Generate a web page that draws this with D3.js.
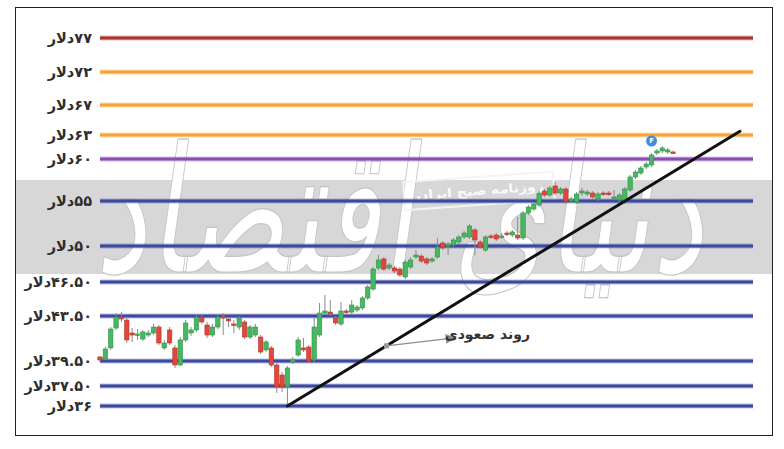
<html>
<head>
<meta charset="utf-8">
<title>Oil trend</title>
<script src="https://cdn.jsdelivr.net/npm/d3@7"></script>
<style>
body { margin:0; background:#fff; }
svg text { font-family: "DejaVu Sans", sans-serif; }
</style>
</head>
<body>
<div id="chart"></div>
<script>
// price levels (dollars) and their labels
var levels = [77, 72, 67, 63, 60, 55, 50, 46.5, 43.5, 39.5, 37.5, 36];
var levelLabels = ['۷۷دلار','۷۲دلار','۶۷دلار','۶۳دلار','۶۰دلار','۵۵دلار','۵۰دلار',
  '۴۶.۵۰دلار','۴۳.۵۰دلار','۳۹.۵۰دلار','۳۷.۵۰دلار','۳۶دلار'];

// daily candles
var open = [39.86,39.68,40.66,42.43,43.41,43.14,41.99,41.81,41.46,41.81,41.99,42.52,40.66,42.26,40.66,39.18,41.37,41.99,42.26,43.41,
  42.70,41.81,42.52,43.50,43.23,42.79,42.52,42.97,41.63,41.81,41.63,40.48,40.66,39.18,38.38,37.43,39.42,40.03,40.66,40.74,
  39.59,41.81,43.76,43.85,43.32,42.79,43.94,43.85,44.03,44.21,45.09,45.88,47.86,48.74,47.86,47.86,47.76,46.99,47.96,48.93,
  49.02,48.74,48.54,48.93,50.33,50.00,50.11,50.44,51.00,51.00,51.78,50.44,49.61,51.11,51.22,51.00,51.44,51.22,51.22,50.89,
  53.67,54.11,54.56,56.19,55.71,56.79,55.95,56.43,55.00,54.89,55.95,55.83,55.95,55.24,55.95,55.95,55.36,55.12,54.89,56.31,
  57.86,58.33,59.05,59.29,60.75,61.00,60.88,60.88];
var high = [39.94,40.74,42.52,43.76,43.85,43.32,42.43,42.34,42.26,42.26,42.79,42.70,41.37,42.52,40.92,41.63,43.14,42.52,43.59,43.59,
  42.97,42.79,43.59,43.76,43.41,43.14,43.50,43.14,42.70,42.79,41.81,41.37,40.83,39.34,38.62,39.10,39.86,41.63,41.54,40.92,
  43.41,44.65,45.35,44.91,43.50,44.74,44.12,44.91,44.47,45.27,46.24,47.96,49.12,48.93,48.35,48.05,47.96,48.64,48.93,49.61,
  49.22,48.93,48.93,50.89,50.56,50.44,50.89,51.22,51.67,52.44,52.00,50.67,51.22,51.33,51.44,51.44,51.67,51.78,53.22,53.89,
  54.56,54.89,56.19,56.43,56.79,57.26,56.67,56.67,55.48,56.07,56.55,56.31,56.19,56.07,56.19,56.19,56.31,55.95,56.67,58.10,
  58.69,59.17,59.64,60.75,61.25,61.63,61.38,61.00];
var low = [39.42,39.59,40.48,42.26,42.97,41.10,41.19,41.37,41.28,41.63,41.81,40.92,40.48,40.92,38.94,39.10,41.19,41.72,42.08,42.79,
  41.54,41.63,42.34,41.81,42.52,41.99,42.26,41.46,41.46,41.63,40.12,40.30,39.02,36.98,37.05,36.00,39.26,39.86,40.30,39.34,
  39.42,41.63,43.59,43.50,42.70,42.61,43.59,43.68,43.85,44.03,44.91,45.71,47.67,47.57,47.67,47.37,46.99,46.79,47.76,48.74,
  48.35,48.15,48.35,48.74,49.61,49.12,49.90,50.22,50.78,50.78,49.12,49.71,49.42,50.78,50.56,50.78,51.11,51.00,50.67,50.67,
  53.44,53.89,54.33,55.48,55.48,55.71,55.71,54.67,54.78,54.67,55.60,55.60,55.24,55.00,55.60,55.60,55.12,54.89,54.67,56.07,
  57.62,58.10,58.81,59.05,60.50,60.75,60.63,60.63];
var close = [39.59,40.57,42.34,43.41,43.23,41.37,41.81,41.90,42.08,41.99,42.52,41.10,41.10,41.10,39.18,41.37,42.88,42.26,43.41,42.97,
  41.81,42.52,43.41,43.32,43.06,42.70,43.32,41.63,42.52,42.52,40.30,41.19,39.18,37.43,37.43,38.94,39.59,41.37,40.48,39.50,
  42.52,43.76,43.94,43.68,42.88,43.94,43.85,44.47,44.29,45.09,46.06,47.76,48.64,47.76,48.15,47.57,47.18,48.44,48.64,49.12,
  48.54,48.35,48.74,49.90,49.81,50.22,50.67,51.00,51.44,52.22,50.67,49.90,51.00,51.00,50.78,51.11,51.33,51.56,50.89,53.67,
  54.33,54.67,55.95,55.71,56.55,55.95,56.43,55.00,55.24,55.83,56.19,56.07,55.48,55.83,55.83,55.83,55.48,55.71,56.43,57.86,
  58.45,58.93,59.40,60.50,61.00,61.38,61.13,60.75];

// trend line: from the low of candle 35 to a point past the last candle
var trendFrom = [35, 36];
var trendTo = [119.5, 63.5];
var trendIndex = 53.5;     // where the annotation arrow leaves the line
var trendLabel = 'روند صعودی';
var markerIndex = 103;     // blue "F" marker
var markerText = 'F';

var watermark = 'دنیای اقتصاد';
var stamp = 'روزنامه صبح ایران';

var W = 784, H = 449;
var svg = d3.select('#chart').append('svg').attr('width', W).attr('height', H);

var y = d3.scaleLinear()
  .domain(levels)
  .range([38, 72, 105, 135, 159, 201, 246, 282, 316, 361, 386, 406]);
var x = d3.scaleLinear().domain([0, open.length - 1]).range([100, 673]);

var levelColor = d3.scaleThreshold()
  .domain([58, 62, 75])
  .range(['#3c49a2', '#8b4db3', '#f6a234', '#a8362d']);

// frame
svg.append('rect').attr('x', 15.5).attr('y', 7.5).attr('width', 757).attr('height', 428)
  .attr('fill', '#fff').attr('stroke', '#222').attr('stroke-width', 1);

// grey band + watermark
svg.append('rect').attr('x', 16).attr('y', 180).attr('width', 756).attr('height', 94).attr('fill', '#d7d7d7');
svg.append('text')
  .attr('x', 95).attr('y', 272)
  .attr('font-size', 175)
  .attr('textLength', 610).attr('lengthAdjust', 'spacingAndGlyphs')
  .attr('transform', 'skewX(-8) translate(38,0)')
  .attr('fill', '#fff').attr('stroke', '#c4c4c4').attr('stroke-width', 1.2)
  .text(watermark);

var st = svg.append('g').attr('transform', 'translate(478,191) rotate(-4)');
st.append('rect').attr('x', -74).attr('y', -14).attr('width', 150).attr('height', 28)
  .attr('fill', 'none').attr('stroke', '#f4f4f4').attr('stroke-width', 2);
st.append('text').attr('x', 2).attr('y', 4).attr('text-anchor', 'middle')
  .attr('font-size', 12).attr('font-weight', 'bold').attr('fill', '#fafafa')
  .attr('textLength', 128).attr('lengthAdjust', 'spacingAndGlyphs')
  .text(stamp);

// level lines
var lv = svg.append('g');
lv.selectAll('line.halo').data(levels).join('line').attr('class', 'halo')
  .attr('x1', 100).attr('x2', 753)
  .attr('y1', function(d){ return y(d); }).attr('y2', function(d){ return y(d); })
  .attr('stroke', function(d){ return levelColor(d); }).attr('stroke-opacity', 0.35).attr('stroke-width', 5);
lv.selectAll('line.core').data(levels).join('line').attr('class', 'core')
  .attr('x1', 100).attr('x2', 753)
  .attr('y1', function(d){ return y(d); }).attr('y2', function(d){ return y(d); })
  .attr('stroke', function(d){ return levelColor(d); }).attr('stroke-width', 3);

// labels (RLM keeps the number on the right)
svg.append('g').selectAll('text').data(levels).join('text')
  .attr('x', 92).attr('y', function(d){ return y(d); }).attr('dy', '0.32em')
  .attr('text-anchor', 'end')
  .attr('font-size', 14.5).attr('font-weight', 'bold').attr('fill', '#2e2e2e')
  .text(function(d, i){ return '\u200F' + levelLabels[i]; });

// candles
var idx = d3.range(open.length);
var cg = svg.append('g');
cg.selectAll('line').data(idx).join('line')
  .attr('x1', function(i){ return x(i); }).attr('x2', function(i){ return x(i); })
  .attr('y1', function(i){ return y(high[i]); }).attr('y2', function(i){ return y(low[i]); })
  .attr('stroke', '#8a8a8a').attr('stroke-width', 1);
cg.selectAll('rect').data(idx).join('rect')
  .attr('x', function(i){ return x(i) - 2.2; }).attr('width', 4.4)
  .attr('y', function(i){ return y(Math.max(open[i], close[i])); })
  .attr('height', function(i){ return Math.max(1.5, Math.abs(y(open[i]) - y(close[i]))); })
  .attr('fill', function(i){ return close[i] >= open[i] ? '#45b860' : '#e2473d'; })
  .attr('stroke', function(i){ return close[i] >= open[i] ? '#2f9147' : '#b8352c'; })
  .attr('stroke-width', 0.6);

// marker
var mk = svg.append('g').attr('transform', 'translate(' + x(markerIndex) + ',' + (y(high[markerIndex]) - 12) + ')');
mk.append('circle').attr('r', 5.5).attr('fill', '#3f8ede');
mk.append('text').attr('text-anchor', 'middle').attr('dy', '0.35em')
  .attr('font-size', 7).attr('font-weight', 'bold').attr('fill', '#fff').text(markerText);

// trend line
var tx1 = x(trendFrom[0]), ty1 = y(trendFrom[1]), tx2 = x(trendTo[0]), ty2 = y(trendTo[1]);
svg.append('line').attr('x1', tx1).attr('y1', ty1).attr('x2', tx2).attr('y2', ty2)
  .attr('stroke', '#111').attr('stroke-width', 3).attr('stroke-linecap', 'round');

// annotation
var ax = x(trendIndex), ay = ty1 + (ty2 - ty1) * (ax - tx1) / (tx2 - tx1);
svg.append('defs').append('marker').attr('id', 'ah')
  .attr('viewBox', '0 0 10 10').attr('refX', 9).attr('refY', 5)
  .attr('markerWidth', 7).attr('markerHeight', 7).attr('orient', 'auto')
  .append('path').attr('d', 'M0,0L10,5L0,10z').attr('fill', '#8c8c8c');
svg.append('line').attr('x1', ax).attr('y1', ay).attr('x2', ax + 68).attr('y2', ay - 8)
  .attr('stroke', '#8c8c8c').attr('stroke-width', 1.4).attr('marker-end', 'url(#ah)');
svg.append('rect').attr('x', ax - 2.5).attr('y', ay - 2.5).attr('width', 5).attr('height', 5).attr('fill', '#9a9a9a');
svg.append('text').attr('x', 530).attr('y', ay - 7).attr('text-anchor', 'end')
  .attr('font-size', 14).attr('font-weight', 'bold').attr('fill', '#333')
  .text(trendLabel);
</script>
</body>
</html>
